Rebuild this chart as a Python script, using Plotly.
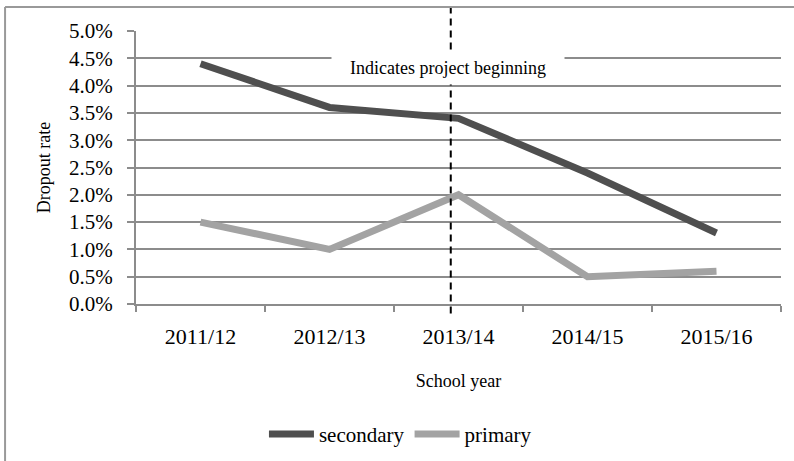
import plotly.graph_objects as go

years = ["2011/12", "2012/13", "2013/14", "2014/15", "2015/16"]
secondary = [0.044, 0.036, 0.034, 0.024, 0.013]
primary = [0.015, 0.010, 0.020, 0.005, 0.006]

serif = "Liberation Serif"
grid_col = "#8c8c8c"

fig = go.Figure()
fig.add_trace(go.Scatter(x=years, y=secondary, name="secondary", mode="lines",
                         line=dict(color="#4f4f4f", width=7)))
fig.add_trace(go.Scatter(x=years, y=primary, name="primary", mode="lines",
                         line=dict(color="#a3a3a3", width=7)))

# project start marker (a little left of the 2013/14 centre, as in the source)
fig.add_shape(type="line", xref="x", yref="paper", x0=1.94, x1=1.94, y0=-0.035, y1=1.085,
              line=dict(color="black", width=2, dash="7px,5px"), layer="above")
fig.add_annotation(x=1.92, y=0.0433, xref="x", yref="y", text="Indicates project beginning",
                   showarrow=False, bgcolor="white",
                   font=dict(family=serif, size=18, color="black"),
                   borderpad=4, width=224, height=24)

# outer frame (left and top edges visible)
fig.add_shape(type="line", xref="paper", yref="paper", x0=-0.203, x1=1.03, y0=1.088, y1=1.088,
              line=dict(color="#999999", width=2))
fig.add_shape(type="line", xref="paper", yref="paper", x0=-0.203, x1=-0.203, y0=1.088, y1=-0.6,
              line=dict(color="#999999", width=2))

fig.update_layout(
    width=794, height=461,
    margin=dict(l=136, r=13, t=31, b=157),
    paper_bgcolor="white", plot_bgcolor="white",
    font=dict(family=serif, color="black"),
    showlegend=True,
    legend=dict(orientation="h", x=0.41, xanchor="center", y=0.058, yanchor="middle",
                yref="container",
                font=dict(family=serif, size=21, color="black"), itemwidth=45, tracegroupgap=0),
)
fig.update_xaxes(
    type="category", range=[-0.5, 4.5], showline=True, linecolor=grid_col, linewidth=2,
    ticks="outside", tickson="boundaries", ticklen=6, tickcolor=grid_col, tickwidth=1.5,
    showgrid=False, tickfont=dict(family=serif, size=22, color="black"), ticklabelstandoff=12,
    title=dict(text="School year", font=dict(family=serif, size=18, color="black"), standoff=26),
    automargin=False,
)
fig.update_yaxes(
    range=[0, 0.05], dtick=0.005, tickformat=".1%", showline=True, linecolor=grid_col, linewidth=2,
    ticks="outside", ticklen=7, tickcolor=grid_col, tickwidth=1.5,
    showgrid=True, gridcolor=grid_col, gridwidth=1.5, zeroline=False,
    tickfont=dict(family=serif, size=21, color="black"), ticklabelstandoff=10,
    title=dict(text="Dropout rate", font=dict(family=serif, size=18, color="black"), standoff=14),
    automargin=False,
)

fig.write_html("out.html", config={"displayModeBar": False},
               post_script="document.body.style.margin='0';")
